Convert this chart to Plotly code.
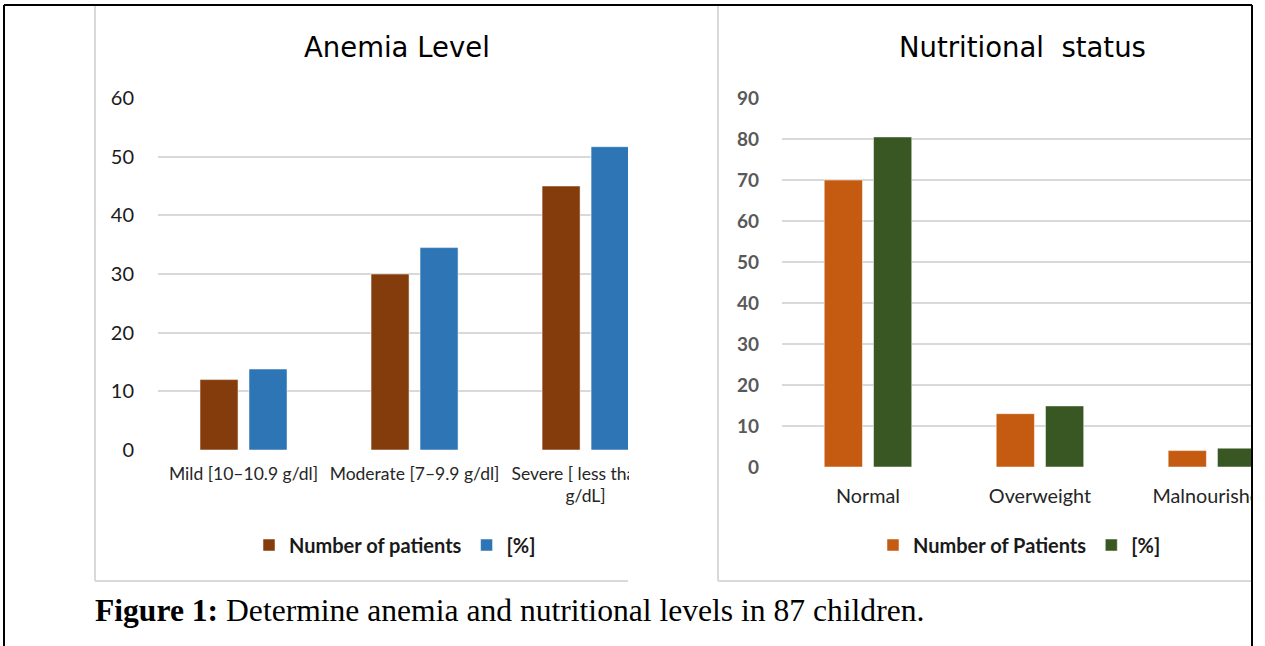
import plotly.graph_objects as go

W, H = 1265, 646

# ---- data ----
anemia_levels = ["Mild [10–10.9 g/dl]", "Moderate [7–9.9 g/dl]", "Severe [ less than 7<br>g/dL]"]
anemia_patients = [12, 30, 45]
anemia_pct = [13.8, 34.5, 51.7]

nutrition_status = ["Normal", "Overweight", "Malnourished"]
nutrition_patients = [70, 13, 4]
nutrition_pct = [80.5, 14.9, 4.6]

anemia_ticks = [0, 10, 20, 30, 40, 50, 60]
nutrition_ticks = [0, 10, 20, 30, 40, 50, 60, 70, 80, 90]


def px_x(x):
    return x / W


def px_y(y):
    return 1 - y / H


UI_FONT = "Lato"
TITLE_FONT = "DejaVu Sans"
GRID = "#d9d9d9"
EDGE = dict(color="rgba(255,255,255,0.5)", width=1)

fig = go.Figure()

fig.add_trace(go.Bar(
    x=anemia_levels, y=anemia_patients, name="Number of patients",
    marker=dict(color="#843C0C", line=EDGE),
    xaxis="x", yaxis="y", legend="legend",
))
fig.add_trace(go.Bar(
    x=anemia_levels, y=anemia_pct, name="[%]",
    marker=dict(color="#2E75B6", line=EDGE),
    xaxis="x", yaxis="y", legend="legend",
))
fig.add_trace(go.Bar(
    x=nutrition_status, y=nutrition_patients, name="Number of Patients",
    marker=dict(color="#C55A11", line=EDGE),
    xaxis="x2", yaxis="y2", legend="legend2",
))
fig.add_trace(go.Bar(
    x=nutrition_status, y=nutrition_pct, name="[%]",
    marker=dict(color="#385723", line=EDGE),
    xaxis="x2", yaxis="y2", legend="legend2",
))

fig.update_layout(
    width=W, height=H,
    margin=dict(l=0, r=0, t=0, b=0, pad=0, autoexpand=False),
    paper_bgcolor="white", plot_bgcolor="white",
    barmode="group", bargap=0.427, bargroupgap=0.224,
    font=dict(family=UI_FONT, color="#262626"),
    xaxis=dict(
        domain=[px_x(158), px_x(628)], range=[-0.5, 2.248], automargin=False,
        anchor="y", showgrid=False, showline=False, zeroline=False,
        ticks="", tickfont=dict(size=17.5, color="#262626"), ticklabelstandoff=11,
        fixedrange=True,
    ),
    yaxis=dict(
        domain=[px_y(450), px_y(98)], range=[0, 60], automargin=False,
        anchor="x", tickvals=anemia_ticks, showgrid=True, gridcolor=GRID, gridwidth=1.5,
        zeroline=False, showline=False, ticks="",
        tickfont=dict(size=20, color="#1a1a1a"), ticklabelstandoff=23,
    ),
    xaxis2=dict(
        domain=[px_x(782), px_x(1252)], range=[-0.5, 2.233], automargin=False,
        anchor="y2", showgrid=False, showline=False, zeroline=False,
        ticks="", tickfont=dict(size=19.8, color="#262626"), ticklabelstandoff=15,
    ),
    yaxis2=dict(
        domain=[px_y(467), px_y(98)], range=[0, 90], automargin=False,
        anchor="x2", tickvals=nutrition_ticks, showgrid=True, gridcolor=GRID, gridwidth=1.5,
        zeroline=False, showline=False, ticks="",
        tickfont=dict(size=19, color="#595959", weight="bold"), ticklabelstandoff=22,
    ),
    legend=dict(
        orientation="h", x=px_x(249), xanchor="left", y=px_y(545), yanchor="middle",
        font=dict(size=20, color="#1a1a1a", weight="bold"), bgcolor="rgba(0,0,0,0)",
    ),
    legend2=dict(
        orientation="h", x=px_x(873), xanchor="left", y=px_y(545), yanchor="middle",
        font=dict(size=20, color="#1a1a1a", weight="bold"), bgcolor="rgba(0,0,0,0)",
    ),
    showlegend=True,
)

# chart titles and the figure caption
fig.add_annotation(text="Anemia Level", x=px_x(397), y=px_y(47), xref="paper", yref="paper",
                   showarrow=False, xanchor="center", yanchor="middle",
                   font=dict(family=TITLE_FONT, size=27.5, color="#000000"))
fig.add_annotation(text="Nutritional\u00a0 status", x=px_x(1022), y=px_y(47), xref="paper", yref="paper",
                   showarrow=False, xanchor="center", yanchor="middle",
                   font=dict(family=TITLE_FONT, size=27.5, color="#000000"))
fig.add_annotation(text="<b>Figure 1:</b> Determine anemia and nutritional levels in 87 children.",
                   x=px_x(93), y=px_y(610), xref="paper", yref="paper",
                   showarrow=False, xanchor="left", yanchor="middle",
                   font=dict(family="Liberation Serif", size=31.6, color="#000000"))

shapes = []
# white masks where the chart frames are cut off
shapes.append(dict(type="rect", xref="paper", yref="paper", layer="above",
                   x0=px_x(629), x1=px_x(717), y0=px_y(590), y1=px_y(6),
                   fillcolor="white", line=dict(width=0)))
shapes.append(dict(type="rect", xref="paper", yref="paper", layer="above",
                   x0=px_x(1253), x1=1, y0=0, y1=1,
                   fillcolor="white", line=dict(width=0)))
# chart frames
for x0, x1 in [(95, 628), (718, 1252)]:
    shapes.append(dict(type="line", xref="paper", yref="paper", layer="above",
                       x0=px_x(x0), x1=px_x(x0), y0=px_y(5), y1=px_y(581),
                       line=dict(color=GRID, width=2)))
    shapes.append(dict(type="line", xref="paper", yref="paper", layer="above",
                       x0=px_x(x0), x1=px_x(x1), y0=px_y(581), y1=px_y(581),
                       line=dict(color=GRID, width=2)))
# outer figure box
shapes.append(dict(type="line", xref="paper", yref="paper", layer="above",
                   x0=px_x(4), x1=px_x(1252), y0=px_y(5), y1=px_y(5),
                   line=dict(color="black", width=2)))
shapes.append(dict(type="line", xref="paper", yref="paper", layer="above",
                   x0=px_x(4), x1=px_x(4), y0=px_y(5), y1=0,
                   line=dict(color="black", width=2)))
shapes.append(dict(type="line", xref="paper", yref="paper", layer="above",
                   x0=px_x(1252), x1=px_x(1252), y0=px_y(5), y1=0,
                   line=dict(color="black", width=2)))
fig.update_layout(shapes=shapes)

fig.write_html("out.html", config={"displayModeBar": False})
